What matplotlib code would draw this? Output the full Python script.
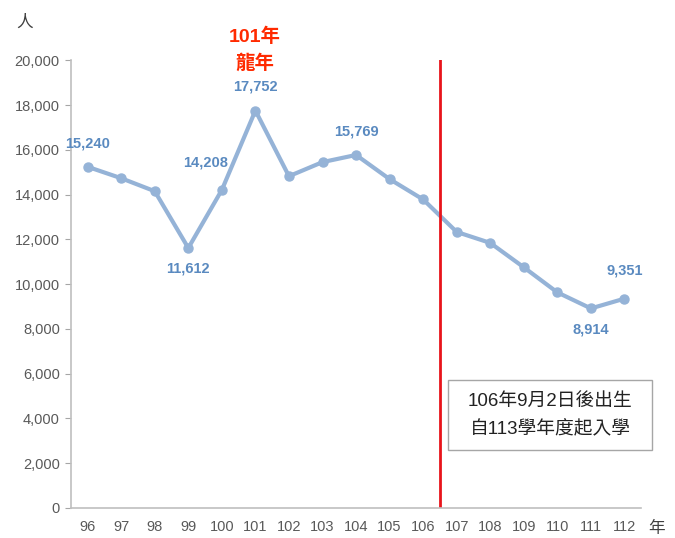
import matplotlib
matplotlib.use("Agg")
import matplotlib.pyplot as plt
from matplotlib.patches import Rectangle

plt.rcParams['font.family'] = ['Liberation Sans', 'Noto Sans CJK TC', 'DejaVu Sans']

years = [96, 97, 98, 99, 100, 101, 102, 103, 104, 105, 106, 107, 108, 109, 110, 111, 112]
births = [15240, 14730, 14150, 11612, 14208, 17752, 14820, 15450, 15769, 14690,
          13780, 12330, 11840, 10750, 9630, 8914, 9351]
# labelled points: year -> (dx, dy) offset in points
labelled = {96: (0, 17), 99: (0, -15), 100: (-12, 20), 101: (0, 17), 104: (0, 17),
            111: (0, -15), 112: (0, 20)}
cutoff = 106.5
box_lines = ["106年9月2日後出生", "自113學年度起入學"]

fig = plt.figure(figsize=(6.75, 5.38), dpi=100)
ax = fig.add_axes([0.105, 0.0558, 0.845, 0.8322])

line_col = "#95B3D7"
lab_col = "#5A8AC0"
ax.plot(years, births, color=line_col, lw=3, marker="o", ms=6.5, solid_capstyle="round")

for x, y in zip(years, births):
    if x in labelled:
        dx, dy = labelled[x]
        ax.annotate(f"{y:,}", (x, y), xytext=(dx, dy), textcoords="offset points",
                    ha="center", va="center", color=lab_col, fontsize=10.5, fontweight="bold")

ax.axvline(cutoff, color="#E8141B", lw=2)

ax.set_xlim(95.5, 112.5)
ax.set_ylim(0, 20000)
ax.set_xticks(years)
ax.set_xticklabels([str(y) for y in years])
ax.set_yticks(range(0, 20001, 2000))
ax.set_yticklabels([f"{v:,}" for v in range(0, 20001, 2000)])
ax.tick_params(axis="x", length=0, pad=9, colors="#595959", labelsize=10.5)
ax.tick_params(axis="y", length=4, color="#A6A6A6", colors="#595959", labelsize=10.5, pad=4)
for s in ["top", "right"]:
    ax.spines[s].set_visible(False)
for s in ["left", "bottom"]:
    ax.spines[s].set_color("#BFBFBF")
    ax.spines[s].set_linewidth(1.2)

# dragon year note above the peak
fig.text(255 / 675, 1 - 37 / 538, "101年", ha="center", va="center", color="#FF2A00",
         fontsize=14, fontweight="bold")
fig.text(255 / 675, 1 - 63 / 538, "龍年", ha="center", va="center", color="#FF2A00",
         fontsize=14, fontweight="bold")

fig.text(25 / 675, 1 - 22 / 538, "人", ha="center", va="center", fontsize=12, color="#404040")
fig.text(657 / 675, 1 - 528 / 538, "年", ha="center", va="center", fontsize=12, color="#404040")

fig.patches.append(Rectangle((448 / 675, 1 - 450 / 538), 204 / 675, 70 / 538,
                             transform=fig.transFigure, fc="white", ec="#A6A6A6", lw=1))
fig.text(550 / 675, 1 - 401 / 538, box_lines[0], ha="center", va="center",
         fontsize=13.5, color="#222222")
fig.text(550 / 675, 1 - 430 / 538, box_lines[1], ha="center", va="center",
         fontsize=13.5, color="#222222")

fig.savefig("out.png", dpi=100)
